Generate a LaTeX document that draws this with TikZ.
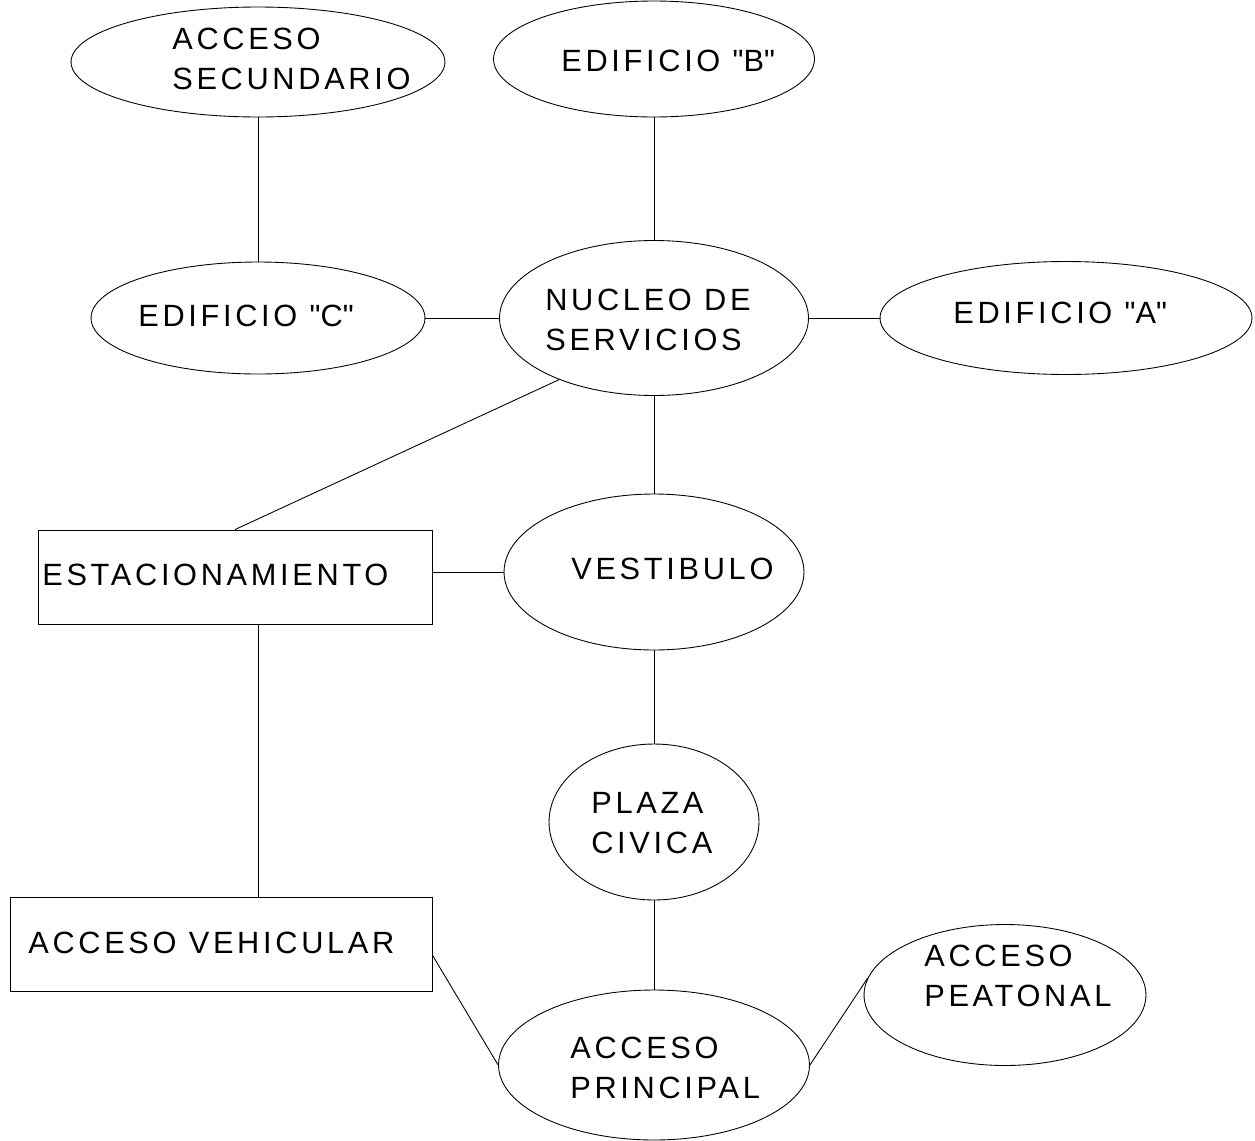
\documentclass[tikz,border=0pt]{standalone}
\usepackage{fontspec}
\setmainfont[LetterSpace=12]{Liberation Sans}
\usetikzlibrary{shapes.geometric}

\begin{document}
\begin{tikzpicture}[x=0.02cm, y=-0.02cm,
    zona/.style={draw, ellipse, inner sep=0pt, line width=0.5pt},
    caja/.style={draw, rectangle, inner sep=0pt, line width=0.5pt},
    rotulo/.style={anchor=north west, align=left, inner sep=0pt,
        font=\fontsize{17.5}{22.8}\selectfont},
    enlace/.style={line width=0.5pt}]

    % Marco del dibujo (en pixeles)
    \useasboundingbox (0,0) rectangle (1255,1140);

    % Comillas rectas
    \def\cq{\textquotedbl}

    % Zonas del programa (elipses y cajas)
    \node[zona, minimum width=7.48cm, minimum height=2.2cm]  (sec) at (258,62)   {};
    \node[zona, minimum width=6.42cm, minimum height=2.32cm] (edb) at (654,59)   {};
    \node[zona, minimum width=6.68cm, minimum height=2.24cm] (edc) at (258,318)  {};
    \node[zona, minimum width=6.18cm, minimum height=3.1cm]  (nuc) at (654,318)  {};
    \node[zona, minimum width=7.44cm, minimum height=2.26cm] (eda) at (1066,318) {};
    \node[caja, minimum width=7.88cm, minimum height=1.88cm] (est) at (235,577)  {};
    \node[zona, minimum width=6.0cm,  minimum height=3.12cm] (ves) at (654,572)  {};
    \node[zona, minimum width=4.2cm,  minimum height=3.12cm] (pla) at (654,822)  {};
    \node[caja, minimum width=8.44cm, minimum height=1.88cm] (veh) at (221,944)  {};
    \node[zona, minimum width=6.22cm, minimum height=3.0cm]  (pri) at (654,1065) {};
    \node[zona, minimum width=5.64cm, minimum height=2.82cm] (pea) at (1005,995) {};

    % Rotulos de cada zona
    \node[rotulo] (tsec) at (172,28)   {ACCESO\\SECUNDARIO};
    \node[rotulo] (tedb) at (561,50)   {EDIFICIO \cq B\cq};
    \node[rotulo] (tedc) at (138,305)  {EDIFICIO \cq C\cq};
    \node[rotulo] (tnuc) at (545,289)  {NUCLEO DE\\SERVICIOS};
    \node[rotulo] (teda) at (953,302)  {EDIFICIO \cq A\cq};
    \node[rotulo] (test) at (42,564)   {ESTACIONAMIENTO};
    \node[rotulo] (tves) at (571,558)  {VESTIBULO};
    \node[rotulo] (tpla) at (591,792)  {PLAZA\\CIVICA};
    \node[rotulo] (tveh) at (28,932)   {ACCESO VEHICULAR};
    \node[rotulo] (tpri) at (570,1037) {ACCESO\\PRINCIPAL};
    \node[rotulo] (tpea) at (924,945)  {ACCESO\\PEATONAL};

    % Relaciones entre zonas
    \draw[enlace] (sec) -- (edc);
    \draw[enlace] (edb) -- (nuc);
    \draw[enlace] (edc) -- (nuc);
    \draw[enlace] (nuc) -- (eda);
    \draw[enlace] (nuc.213) -- (est.north);
    \draw[enlace] (nuc) -- (ves);
    \draw[enlace] (est.east |- ves.west) -- (ves.west);
    \draw[enlace] (est.south -| edc.south) -- (veh.north -| edc.south);
    \draw[enlace] (ves) -- (pla);
    \draw[enlace] (pla) -- (pri);
    \draw[enlace] (veh.-3) -- (pri.west);
    \draw[enlace] (pri.east) -- (pea.173);

\end{tikzpicture}
\end{document}
